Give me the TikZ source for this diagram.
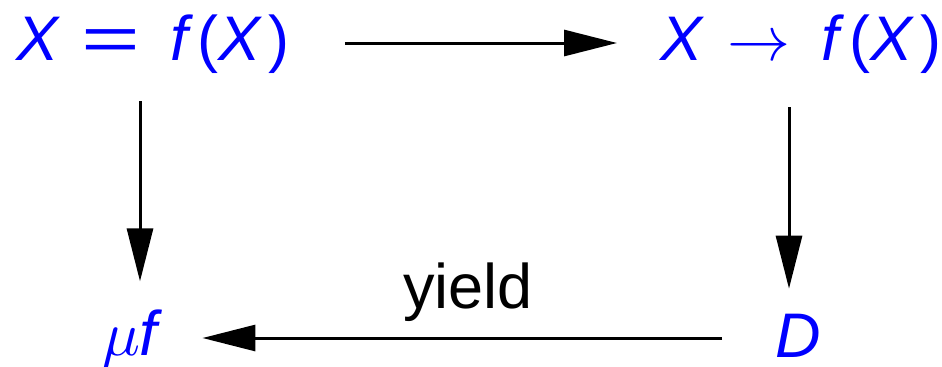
\documentclass[tikz,border=0pt]{standalone}
\usepackage{fontspec}
\setmainfont{Liberation Sans}
\usetikzlibrary{arrows.meta}
\newcommand{\myeq}{\scalebox{1.6}[1]{=}}
\newcommand{\mybigmath}[1]{\scalebox{3.15}{\fontsize{10}{12}\selectfont$#1$}}
\begin{document}
\begin{tikzpicture}[x=0.5pt,y=-0.5pt,
  lbl/.style={inner sep=0pt,outer sep=0pt,text=blue,font=\fontsize{31.5}{36}\selectfont,anchor=base west},
  arr/.style={line width=1.5pt,-{Triangle[length=26.5pt,width=13pt]}}]
\useasboundingbox (0,0) rectangle (942,366);
\node[lbl] (a) at (17,60) {\itshape X\hspace{0.35em}\upshape\myeq\hspace{0.48em}\itshape f\hspace{0.16em}\upshape(\itshape X\hspace{0.13em}\upshape)};
\node[lbl] (b) at (660,60) {\itshape X\hspace{0.4em}\upshape\mybigmath{\rightarrow}\hspace{0.5em}\itshape f\hspace{0.16em}\upshape(\itshape X\hspace{0.13em}\upshape)};
\node[lbl] (c) at (102,355) {\mybigmath{\mu}\itshape f};
\node[lbl] (d) at (775,357) {\itshape D};
\node[lbl,text=black] (y) at (403,308) {yield};
\draw[arr,shorten <=27.5pt,shorten >=21.5pt] (a.east |- 0,43) -- (b.west |- 0,43);
\draw[arr,shorten <=14pt,shorten >=14pt] (a.south -| 140,0) -- (c.north -| 140,0);
\draw[arr,shorten <=17pt,shorten >=12.5pt] (b.south -| 789,0) -- (d.north -| 789,0);
\draw[arr,shorten <=26.5pt,shorten >=22.5pt] (d.west |- 0,338) -- (c.east |- 0,338);
\end{tikzpicture}
\end{document}
